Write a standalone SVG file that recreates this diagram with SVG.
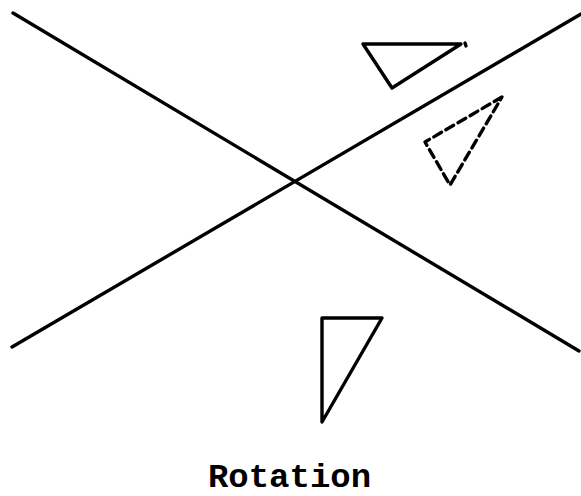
<svg xmlns="http://www.w3.org/2000/svg" width="581" height="496" viewBox="0 0 581 496">
<style>
.ln{stroke:#000;stroke-width:3.4;fill:none;stroke-linecap:round;stroke-linejoin:round}
.dash{stroke-dasharray:9 5}
.lbl{font-family:"Liberation Mono",monospace;font-size:34px;font-weight:bold;fill:#000}
</style>
<rect width="581" height="496" fill="#fff"/>
<g id="axes">
<line class="ln" x1="13" y1="13" x2="579" y2="351"/>
<line class="ln" x1="12" y1="347" x2="581" y2="14"/>
</g>
<g id="triangle-top">
<polygon class="ln" points="363,44 461,44 392,88"/>
<line class="ln" x1="465" y1="43" x2="466" y2="46"/>
</g>
<g id="triangle-dashed">
<polygon class="ln dash" points="502,97 425,142 450,185"/>
</g>
<g id="triangle-bottom">
<polygon class="ln" points="322,318 382,318 322,422"/>
</g>
<text class="lbl" x="289.5" y="487" text-anchor="middle">Rotation</text>
</svg>
